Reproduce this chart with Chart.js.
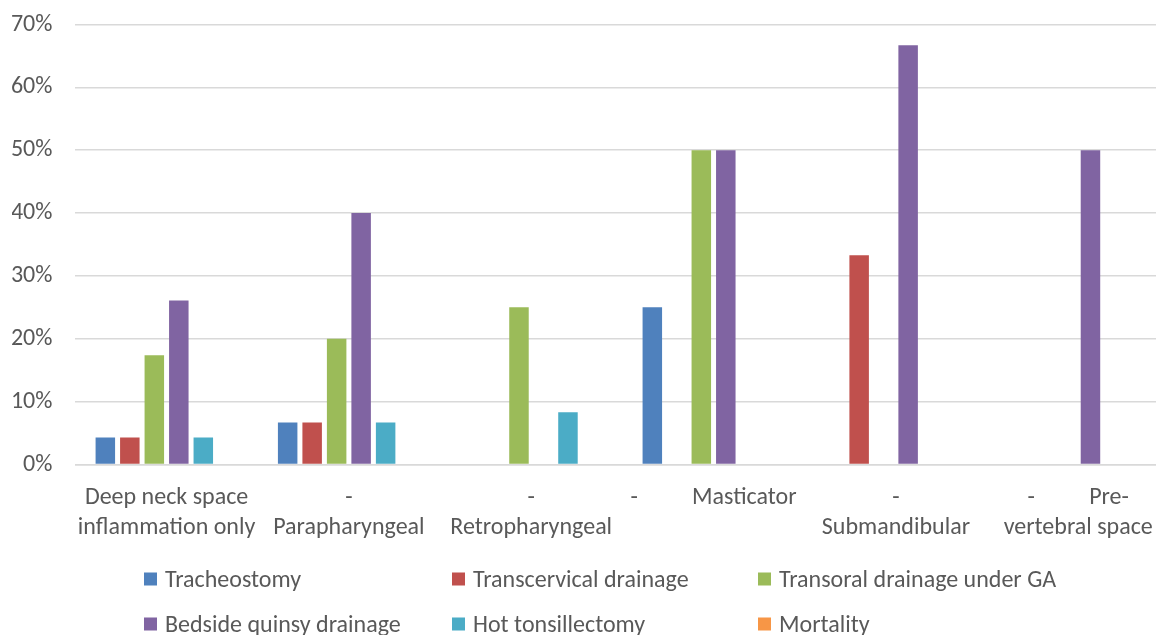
<!DOCTYPE html>
<html>
<head>
<meta charset="utf-8">
<script src="https://cdn.jsdelivr.net/npm/chart.js@4.4.1/dist/chart.umd.min.js"></script>
<style>
html,body{margin:0;padding:0;background:#fff;overflow:hidden}
#wrap{position:relative;width:1172px;height:635px}
</style>
</head>
<body>
<div id="wrap"><canvas id="c"></canvas></div>
<script>
const categoryLabels = [
  ["Deep neck space", "inflammation only"],
  ["-", "Parapharyngeal"],
  ["-", "Retropharyngeal"],
  "-          Masticator",
  ["-", "Submandibular"],
  ["-          Pre-", "vertebral space"]
];
const seriesNames = ["Tracheostomy", "Transcervical drainage", "Transoral drainage under GA",
                     "Bedside quinsy drainage", "Hot tonsillectomy", "Mortality"];
const tracheostomy  = [4.3, 6.7, 0, 25, 0, 0];
const transcervical = [4.3, 6.7, 0, 0, 33.3, 0];
const transoral     = [17.4, 20, 25, 50, 0, 0];
const bedsideQuinsy = [26.1, 40, 0, 50, 66.7, 50];
const hotTonsil     = [4.3, 6.7, 8.3, 0, 0, 0];
const mortality     = [0, 0, 0, 0, 0, 0];
const yTickValues   = [0, 10, 20, 30, 40, 50, 60, 70];
const seriesColors  = ["#4F81BD", "#C0504D", "#9BBB59", "#8064A2", "#4BACC6", "#F79646"];

const FONT = "Carlito, Lato, sans-serif";
const FS = 24;
const TXT = "#595959";

const seriesValues = [tracheostomy, transcervical, transoral, bedsideQuinsy, hotTonsil, mortality];

const legendPlugin = {
  id: "gridLegend",
  afterDraw(chart) {
    const ctx = chart.ctx;
    const colX = [144, 452, 758];
    const rowY = [579, 624];
    ctx.save();
    ctx.font = FS + "px " + FONT;
    ctx.textBaseline = "middle";
    ctx.textAlign = "left";
    chart.data.datasets.forEach((ds, i) => {
      const x = colX[i % 3], y = rowY[Math.floor(i / 3)];
      ctx.fillStyle = ds.backgroundColor;
      ctx.fillRect(x, y - 6.5, 13, 13);
      ctx.fillStyle = TXT;
      ctx.fillText(ds.label, x + 21, y + 2);
    });
    ctx.restore();
  }
};

new Chart(document.getElementById("c"), {
  type: "bar",
  data: {
    labels: categoryLabels,
    datasets: seriesNames.map((n, i) => ({
      label: n,
      data: seriesValues[i],
      backgroundColor: seriesColors[i],
      borderWidth: 0,
      categoryPercentage: 0.806,
      barPercentage: 0.796
    }))
  },
  options: {
    responsive: true,
    maintainAspectRatio: false,
    animation: false,
    devicePixelRatio: 1,
    layout: { padding: { top: 24.5, left: 12, right: 2.6, bottom: 70.5 } },
    plugins: { legend: { display: false }, tooltip: { enabled: false } },
    scales: {
      x: {
        afterFit(scale) { scale.height = 100; },
        grid: { display: false, drawTicks: false },
        border: { display: true, color: "#d9d9d9", width: 1.5 },
        ticks: { color: TXT, font: { family: FONT, size: FS, lineHeight: 1.23 }, padding: 19, maxRotation: 0, autoSkip: false }
      },
      y: {
        min: 0, max: 70,
        afterBuildTicks(scale) { scale.ticks = yTickValues.map(v => ({ value: v })); },
        afterFit(scale) { scale.width = 63.4; scale.paddingTop = 0; scale.paddingBottom = 0; },
        grid: { color: "#d9d9d9", lineWidth: 1.5, drawTicks: false },
        border: { display: false },
        ticks: { color: TXT, font: { family: FONT, size: FS }, padding: 23, callback: v => v + "%" }
      }
    }
  },
  plugins: [legendPlugin]
});
</script>
</body>
</html>
